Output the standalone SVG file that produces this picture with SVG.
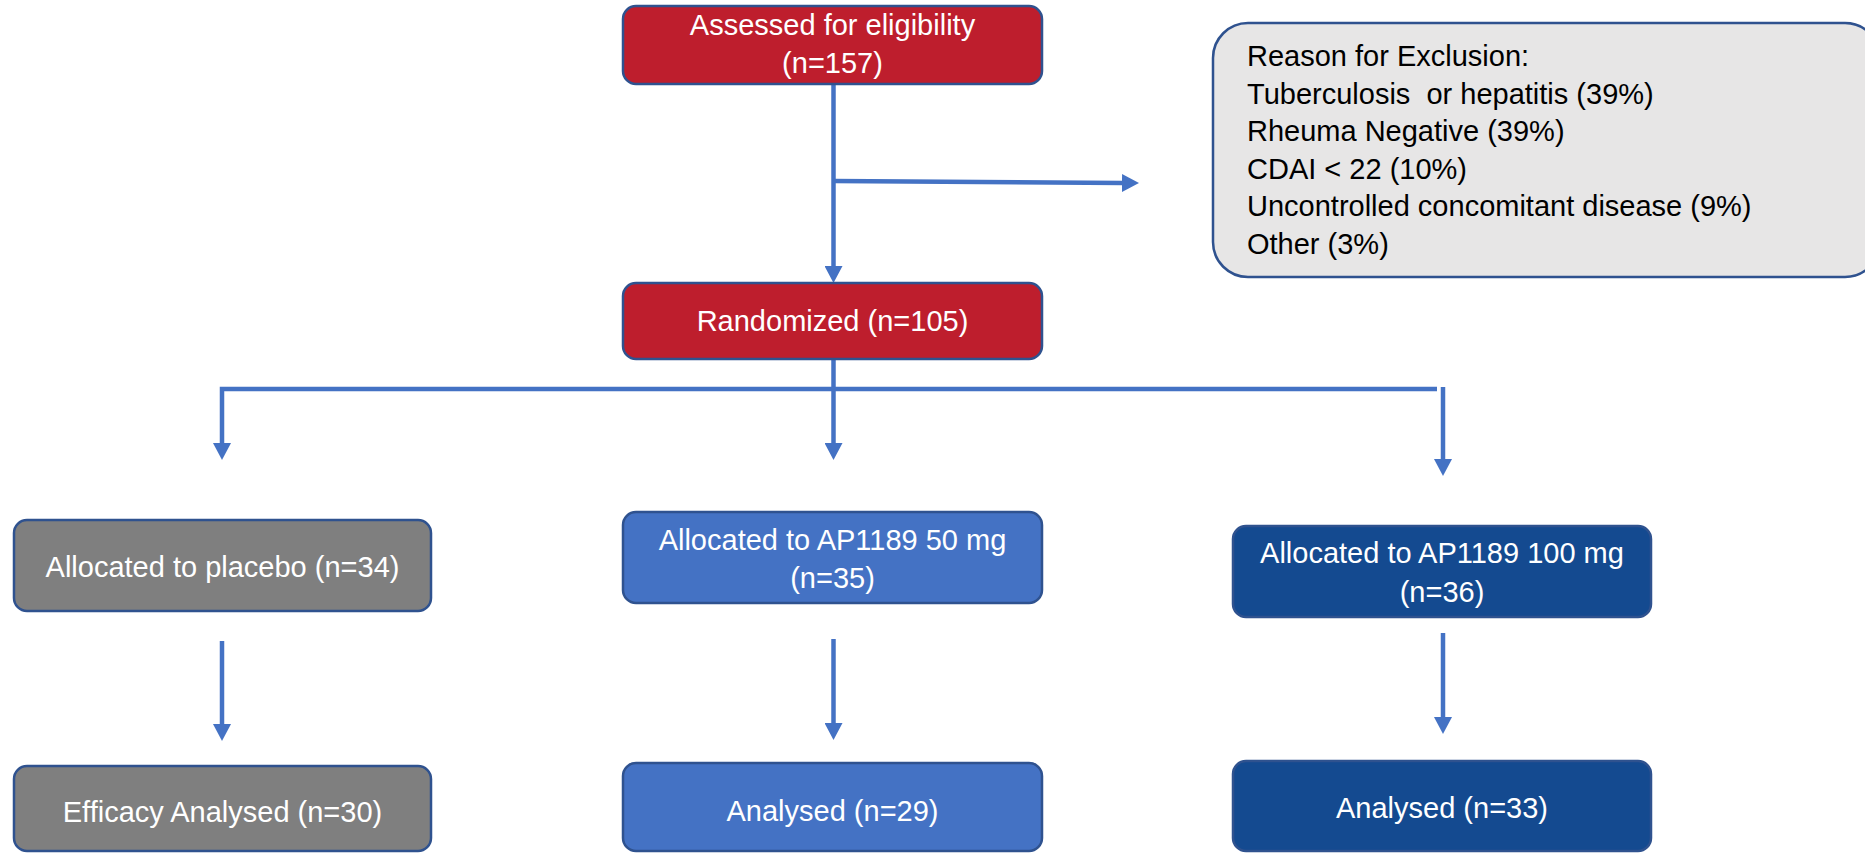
<svg xmlns="http://www.w3.org/2000/svg" width="1865" height="853" viewBox="0 0 1865 853">
<style>
.box{stroke:#2F528F;stroke-width:2.5}
.red{fill:#BE1E2D}
.gray{fill:#7F7F7F}
.blue{fill:#4472C4}
.dark{fill:#144A90}
.excl{fill:#E7E6E6;stroke:#2F528F;stroke-width:2.5}
.t{font-family:"Liberation Sans",Arial,sans-serif;font-size:29px;fill:#FFFFFF;text-anchor:middle}
.e{font-family:"Liberation Sans",Arial,sans-serif;font-size:29px;fill:#000000;white-space:pre}
.c{fill:none;stroke:#4472C4;stroke-width:4.5;stroke-linejoin:miter}
</style>
<defs>
<marker id="ah" viewBox="0 0 17 18" refX="1" refY="9" markerWidth="17" markerHeight="18" markerUnits="userSpaceOnUse" orient="auto">
<path d="M0,0 L17,9 L0,18 Z" fill="#4472C4"/>
</marker>
</defs>
<rect width="1865" height="853" fill="#FFFFFF"/>
<g id="connectors">
<line class="c" x1="833.5" y1="84" x2="833.5" y2="267" marker-end="url(#ah)"/>
<line class="c" x1="833.5" y1="181" x2="1123" y2="183" marker-end="url(#ah)"/>
<line class="c" x1="833.5" y1="359" x2="833.5" y2="444" marker-end="url(#ah)"/>
<path class="c" d="M1437,389 H222 V444" marker-end="url(#ah)"/>
<line class="c" x1="1443" y1="387" x2="1443" y2="460" marker-end="url(#ah)"/>
<line class="c" x1="222" y1="641" x2="222" y2="725" marker-end="url(#ah)"/>
<line class="c" x1="833.5" y1="639" x2="833.5" y2="724" marker-end="url(#ah)"/>
<line class="c" x1="1443" y1="633" x2="1443" y2="718" marker-end="url(#ah)"/>
</g>
<g id="assessed">
<rect class="box red" x="623" y="6" width="419" height="78" rx="13"/>
<text class="t" x="832.5" y="35">Assessed for eligibility</text>
<text class="t" x="832.5" y="73">(n=157)</text>
</g>
<g id="exclusion">
<rect class="excl" x="1213" y="23" width="667" height="254" rx="35"/>
<text class="e" x="1247" y="66">Reason for Exclusion:</text>
<text class="e" x="1247" y="103.5">Tuberculosis  or hepatitis (39%)</text>
<text class="e" x="1247" y="141">Rheuma Negative (39%)</text>
<text class="e" x="1247" y="178.5">CDAI &lt; 22 (10%)</text>
<text class="e" x="1247" y="216">Uncontrolled concomitant disease (9%)</text>
<text class="e" x="1247" y="253.5">Other (3%)</text>
</g>
<g id="randomized">
<rect class="box red" x="623" y="283" width="419" height="76" rx="13"/>
<text class="t" x="832.5" y="331">Randomized (n=105)</text>
</g>
<g id="placebo">
<rect class="box gray" x="14" y="520" width="417" height="91" rx="13"/>
<text class="t" x="222.5" y="577">Allocated to placebo (n=34)</text>
</g>
<g id="dose50">
<rect class="box blue" x="623" y="512" width="419" height="91" rx="13"/>
<text class="t" x="832.5" y="550">Allocated to AP1189 50 mg</text>
<text class="t" x="832.5" y="588">(n=35)</text>
</g>
<g id="dose100">
<rect class="box dark" x="1233" y="526" width="418" height="91" rx="13"/>
<text class="t" x="1442" y="563">Allocated to AP1189 100 mg</text>
<text class="t" x="1442" y="602">(n=36)</text>
</g>
<g id="placeboAnalysed">
<rect class="box gray" x="14" y="766" width="417" height="85" rx="13"/>
<text class="t" x="222.5" y="822">Efficacy Analysed (n=30)</text>
</g>
<g id="dose50Analysed">
<rect class="box blue" x="623" y="763" width="419" height="88" rx="13"/>
<text class="t" x="832.5" y="821">Analysed (n=29)</text>
</g>
<g id="dose100Analysed">
<rect class="box dark" x="1233" y="761" width="418" height="90" rx="13"/>
<text class="t" x="1442" y="818">Analysed (n=33)</text>
</g>
</svg>
